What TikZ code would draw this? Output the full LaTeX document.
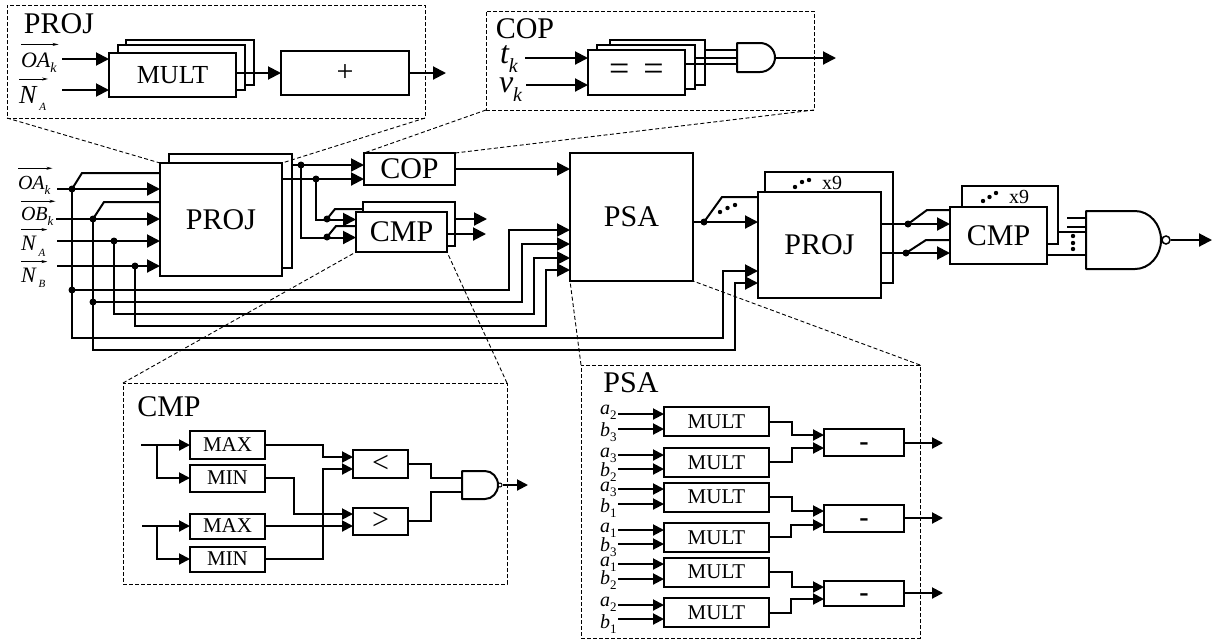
\documentclass[tikz,border=0pt]{standalone}
\usepackage{fontspec}
\setmainfont{Liberation Serif}
\usepackage{tikz}
\usetikzlibrary{arrows.meta, calc}

\newcommand{\fsz}[1]{\fontsize{#1}{#1}\selectfont}
% lowered index: drop, size, text
\newcommand{\idx}[3]{\raisebox{-#1pt}{\fsz{#2}#3}}

\begin{document}
\begin{tikzpicture}[x=1pt, y=-1pt]
    % --- GLOBAL DEFINITIONS ---
    \tikzset{
        blk/.style={draw, fill=white, line width=2pt, inner sep=0pt, outer sep=0pt, align=center},
        layer/.style={draw, fill=white, line width=2pt},
        wire/.style={line width=2pt, line join=miter},
        sig/.style={wire, -{Triangle[length=13pt, width=13pt]}},
        sigs/.style={wire, -{Triangle[length=11pt, width=11pt]}},
        thinw/.style={line width=2pt},
        vecarrow/.style={line width=0.8pt, -{Stealth[length=6pt, width=3pt]}},
        inset/.style={draw, dash pattern=on 4pt off 2pt, line width=1pt, inner sep=0pt, outer sep=0pt},
        zoomline/.style={dash pattern=on 4pt off 2.5pt, line width=0.9pt},
        jdot/.style={circle, fill=black, inner sep=0pt, minimum size=7pt},
        gate/.style={draw, fill=white, line width=2pt, line join=round},
        txt/.style={inner sep=0pt, outer sep=0pt},
        lab/.style={txt, anchor=base west},
        bigfont/.style={font=\fsz{30}},
        midfont/.style={font=\fsz{26}},
        smallfont/.style={font=\fsz{21}},
        symfont/.style={font=\fsz{30}},
        ninefont/.style={font=\fsz{20}}
    }
    \useasboundingbox (0,0) rectangle (1214,641);

    % --- INSET FRAMES ---
    \node[inset, minimum width=418, minimum height=113] (insProj) at (216,61.5) {};
    \node[inset, minimum width=328, minimum height=99] (insCop) at (650,60.5) {};
    \node[inset, minimum width=384, minimum height=201] (insCmp) at (315,483.5) {};
    \node[inset, minimum width=339, minimum height=273] (insPsa) at (750.5,501.5) {};

    % --- PROJ INSET ---
    \node[txt, bigfont] (tProj) at (59,24) {PROJ};
    \draw[layer] (126,40) rectangle (254,85);
    \draw[layer] (118,45) rectangle (245,90);
    \node[blk, midfont, minimum width=127, minimum height=44] (multP) at (172.5,75) {MULT};
    \node[blk, font=\fsz{30}, minimum width=128, minimum height=44] (plusP) at (345,73) {\raisebox{-8pt}[10pt][10pt]{+}};
    \node[lab, font=\fsz{22}\itshape] (lOaP) at (21,67) {OA\idx{5}{14}{k}};
    \node[lab, font=\fsz{26}\itshape] (lNaP) at (19,103) {N\hspace{3pt}\idx{7}{11}{A}};
    \coordinate (pOa) at (62,59);
    \coordinate (pNa) at (62,90);
    \coordinate (pOut) at (446,73);
    \draw[sig] (pOa) -- (pOa -| multP.west);
    \draw[sig] (pNa) -- (pNa -| multP.west);
    \draw[sig] (multP.east |- plusP.west) -- (plusP.west);
    \draw[sig] (plusP.east) -- (pOut);

    % --- COP INSET ---
    \node[txt, bigfont] (tCop) at (525,29) {COP};
    \draw[layer] (610,40) rectangle (705,85);
    \draw[layer] (597,45) rectangle (695,89);
    \node[blk, font=\fsz{36}, minimum width=97, minimum height=45] (eqC) at (636.5,72.5) {\raisebox{-7.5pt}[14pt][14pt]{=\hspace{5pt} =}};
    \node[lab, font=\fsz{32}\itshape] (lT) at (500,63) {t\idx{9}{20}{k}};
    \node[lab, font=\fsz{32}\itshape] (lV) at (499,92) {v\idx{9}{20}{k}};
    \coordinate (pT) at (525,58);
    \coordinate (pV) at (526,85);
    \draw[sig] (pT) -- (pT -| eqC.west);
    \draw[sig] (pV) -- (pV -| eqC.west);
    \draw[wire] (705,50) -- (737,50);
    \draw[wire] (695,58) -- (737,58);
    \draw[wire] (685,64) -- (737,64);
    \draw[gate] (737,43) -- (760,43) arc[start angle=-90, end angle=90, x radius=15, y radius=14.5] -- (737,72) -- cycle;
    \coordinate (gCopOut) at (775,58);
    \coordinate (pCopOut) at (836,58);
    \draw[sig] (gCopOut) -- (pCopOut);

    % --- MAIN ROW: BLOCKS ---
    \draw[layer] (169,154) rectangle (292,268);
    \node[blk, bigfont, minimum width=122, minimum height=113] (proj) at (221,219.5) {PROJ};
    \node[blk, bigfont, minimum width=91, minimum height=32] (cop) at (409.5,169) {COP};
    \draw[layer] (363,202) rectangle (455,246);
    \node[blk, bigfont, minimum width=91, minimum height=40] (cmp) at (401.5,232) {CMP};
    \node[blk, bigfont, minimum width=123, minimum height=128] (psa) at (631.5,217) {PSA};
    \draw[layer] (765,172) rectangle (893,283);
    \node[blk, bigfont, minimum width=123, minimum height=106] (projB) at (819.5,245) {PROJ};
    \draw[layer] (962,186) rectangle (1058,244);
    \node[blk, bigfont, minimum width=97, minimum height=57] (cmpB) at (998.5,235.5) {CMP};
    \node[txt, ninefont] (nineA) at (832,183) {x9};
    \node[txt, ninefont] (nineB) at (1019,197) {x9};
    \foreach \px/\py in {795/187, 802/182, 809/180, 720/212, 727.5/208, 735/205, 983/201, 989.5/197, 996/193,
        1073/236, 1073/243, 1073/249}
        \fill (\px,\py) circle[radius=2.2];

    % --- MAIN ROW: INPUTS ---
    \node[lab, font=\fsz{20}\itshape] (lOa) at (18,189) {OA\idx{5}{13}{k}};
    \node[lab, font=\fsz{20}\itshape] (lOb) at (21,220) {OB\idx{5}{13}{k}};
    \node[lab, font=\fsz{22}\itshape] (lNa) at (21,250) {N\hspace{3pt}\idx{6}{11}{A}};
    \node[lab, font=\fsz{22}\itshape] (lNb) at (21,282) {N\hspace{3pt}\idx{5}{11}{B}};
    % arrows over the vector names
    \foreach \nm/\up in {lOaP/8, lNaP/7, lOa/7.5, lOb/5.5, lNa/6, lNb/6}
        \draw[vecarrow] ([yshift=\up pt]\nm.north west) -- ([xshift=2pt, yshift=\up pt]\nm.north east);
    \node[jdot] (jOa) at (72,189) {};
    \node[jdot] (jOb) at (93,219) {};
    \node[jdot] (jNa) at (114,241) {};
    \node[jdot] (jNb) at (135,266) {};
    \node[jdot] (jOaB) at (72,290) {};
    \node[jdot] (jObB) at (93,302) {};
    \coordinate (iOa) at (57,189);
    \coordinate (iOb) at (56,219);
    \coordinate (iNa) at (57,241);
    \coordinate (iNb) at (57,266);
    \foreach \from in {iOa, iOb, iNa, iNb}
        \draw[sig] (\from) -- (\from -| proj.west);
    \draw[wire] (jOa.center) -- (82,173) -- (proj.west |- 0,173);
    \draw[wire] (jOb.center) -- (104,202) -- (proj.west |- 0,202);
    % buses: start, bus height, turning x, entry height, target
    \foreach \from/\ybus/\xturn/\yin/\dest in {jOaB/290/509/230/psa, jObB/302/522/244/psa, jNa/314/534/258/psa,
        jNb/326/546/270/psa, jOa/338/723/271/projB, jOb/350/735/283/projB}
        \draw[sig] (\from.center) |- (\xturn,\ybus) |- (\dest.west |- 0,\yin);

    % --- MAIN ROW: PROJ TO COP, CMP ---
    \node[jdot] (jPa) at (301,165) {};
    \node[jdot] (jPb) at (316,179) {};
    \node[jdot] (jCa) at (327,219) {};
    \node[jdot] (jCb) at (327,237) {};
    \draw[sig] (292,165) -- (cop.west |- 0,165);
    \draw[sig] (proj.east |- 0,179) -- (cop.west |- 0,179);
    \draw[sig] (jPb.center) |- (cmp.west |- 0,219.5);
    \draw[sig] (jPa.center) |- (cmp.west |- 0,237.5);
    \draw[wire] (jCa.center) -- (335,209) -- (363,209);
    \draw[wire] (jCb.center) -- (336,226) -- (cmp.west |- 0,226);
    \draw[sig] (cmp.east |- 0,219) ++(8,0) -- (487,219);
    \draw[sig] (cmp.east |- 0,234) -- (486,234);
    \draw[sig] (cop.east |- 0,169) -- (psa.west |- 0,169);

    % --- MAIN ROW: PSA TO OUTPUT ---
    \node[jdot] (jSa) at (704,222) {};
    \draw[sig] (psa.east |- jSa) -- (projB.west |- jSa);
    \draw[wire] (jSa.center) -- (722,197) -- (projB.west |- 0,197);
    \node[jdot] (jQa) at (908,224) {};
    \node[jdot] (jQb) at (906,253) {};
    \draw[sig] (projB.east |- jQa) -- (cmpB.west |- jQa);
    \draw[sig] (projB.east |- jQb) -- (cmpB.west |- jQb);
    \draw[wire] (jQa.center) -- (927,210) -- (cmpB.west |- 0,210);
    \draw[wire] (jQb.center) -- (926,240) -- (cmpB.west |- 0,240);
    \draw[wire] (1067,218) -- (1086,218);
    \draw[wire] (1067,227) -- (1086,227);
    \draw[wire] (1058,232) -- (1086,232);
    \draw[wire] (cmpB.east |- 0,255) -- (1086,255);
    \draw[gate] (1086,211) -- (1135,211) arc[start angle=-90, end angle=90, x radius=26, y radius=29] -- (1086,269) -- cycle;
    \node[circle, draw, fill=white, line width=1.5pt, inner sep=0pt, minimum size=8pt] (bubA) at (1166,240) {};
    \coordinate (pEnd) at (1212,240);
    \draw[sig] (bubA) -- (pEnd);

    % --- CMP INSET ---
    \node[txt, bigfont] (tCmp) at (169,407) {CMP};
    \node[blk, smallfont, minimum width=75, minimum height=28] (maxA) at (227.5,445) {MAX};
    \node[blk, smallfont, minimum width=75, minimum height=27] (minA) at (227.5,478) {MIN};
    \node[blk, smallfont, minimum width=75, minimum height=25] (maxB) at (227.5,526) {MAX};
    \node[blk, smallfont, minimum width=75, minimum height=25] (minB) at (227.5,559) {MIN};
    \node[blk, symfont, minimum width=55, minimum height=28] (ltC) at (380.5,464) {<};
    \node[blk, symfont, minimum width=55, minimum height=27] (gtC) at (380.5,521) {>};
    \coordinate (cA) at (141,445);
    \coordinate (cB) at (142,526);
    \draw[sigs] (cA) -- (cA -| maxA.west);
    \draw[sigs] (cB) -- (cB -| maxB.west);
    \draw[sigs] (157,445) |- (minA.west);
    \draw[sigs] (157,526) |- (minB.west);
    \draw[sigs] (maxA.east) -| (323,457) -- (ltC.west |- 0,457);
    \draw[sigs] (minB.east) -| (323,469) -- (ltC.west |- 0,469);
    \draw[sigs] (minA.east) -| (294,514) -- (gtC.west |- 0,514);
    \draw[sigs] (maxB.east) -- (gtC.west |- maxB.east);
    \draw[thinw] (ltC.east) -| (431,478) -- (462,478);
    \draw[thinw] (gtC.east) -| (431,492) -- (462,492);
    \draw[gate] (462,471) -- (485,471) arc[start angle=-90, end angle=90, x radius=13, y radius=14] -- (462,499) -- cycle;
    \node[circle, draw, fill=white, line width=1pt, inner sep=0pt, minimum size=4pt] (bubB) at (500,485) {};
    \coordinate (cEnd) at (528,485);
    \draw[sigs] (bubB) -- (cEnd);

    % --- PSA INSET ---
    \node[txt, bigfont] (tPsa) at (631,383) {PSA};
    \foreach \k/\yc/\hg/\yo in {1/442.5/27/443, 2/518.5/27/518, 3/593.5/25/593}
    {
        \node[blk, font=\fsz{28}\bfseries, minimum width=80, minimum height=\hg] (sub\k) at (864,\yc) {\raisebox{-8pt}[6pt][6pt]{-}};
        \coordinate (subEnd\k) at (943,\yo);
        \draw[sigs] (sub\k.east |- subEnd\k) -- (subEnd\k);
    }
    % row, box centre, pins, output, turn, entry, subtractor, label baselines, indices
    \foreach \n/\yc/\ia/\ib/\yo/\xt/\yt/\k/\la/\lb/\sa/\sb in {
        1/421.5/414/429/422/792/435/1/414/436/2/3,
        2/462.5/455/469/462/792/448/1/457/476/3/2,
        3/497/489/504/497/792/511/2/491/512/3/1,
        4/537.5/530/544/537/791/525/2/532/551/1/3,
        5/572/564/579/572/792/587/3/566/584/1/2,
        6/612.5/605/619/613/791/599/3/606/628/2/1}
    {
        \node[blk, smallfont, minimum width=105, minimum height=29] (mult\n) at (716.5,\yc) {MULT};
        \node[lab, font=\fsz{20}\itshape] (la\n) at (600,\la) {a\idx{5}{13}{\upshape\sa}};
        \node[lab, font=\fsz{20}\itshape] (lb\n) at (600,\lb) {b\idx{5}{13}{\upshape\sb}};
        \draw[sigs] (618,\ia) -- (mult\n.west |- 0,\ia);
        \draw[sigs] (618,\ib) -- (mult\n.west |- 0,\ib);
        \draw[sigs] (mult\n.east |- 0,\yo) -| (\xt,\yt) -- (sub\k.west |- 0,\yt);
    }

    % --- ZOOM GUIDES ---
    \draw[zoomline] (insProj.south west) -- (proj.north west);
    \draw[zoomline] (insProj.south east) -- (proj.north east);
    \draw[zoomline] (insCop.south west) -- (cop.north west);
    \draw[zoomline] (insCop.south east) -- (cop.north east);
    \draw[zoomline] (insCmp.north west) -- (cmp.south west);
    \draw[zoomline] (insCmp.north east) -- (cmp.south east);
    \draw[zoomline] (insPsa.north west) -- (psa.south west);
    \draw[zoomline] (insPsa.north east) -- (psa.south east);
\end{tikzpicture}
\end{document}
